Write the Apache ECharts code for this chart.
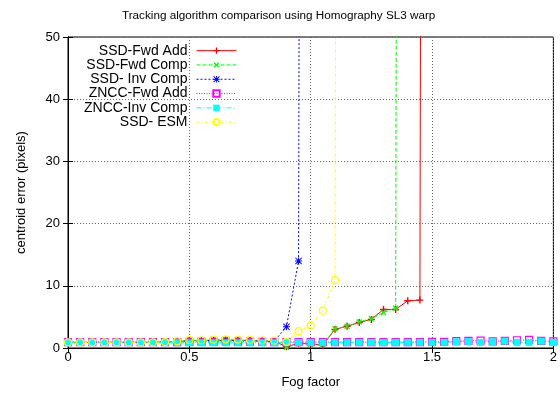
<!DOCTYPE html>
<html>
<head>
<meta charset="utf-8">
<script src="https://cdn.jsdelivr.net/npm/echarts@6/dist/echarts.min.js"></script>
<style>
  html, body { margin: 0; padding: 0; background: #fff; }
  #chart { width: 560px; height: 394px; }
</style>
</head>
<body>
<div id="chart"></div>
<script>
// fog factor samples (x)
const fog = [0, 0.05, 0.1, 0.15, 0.2, 0.25, 0.3, 0.35, 0.4, 0.45,
  0.5, 0.55, 0.6, 0.65, 0.7, 0.75, 0.8, 0.85, 0.9, 0.95,
  1, 1.05, 1.1, 1.15, 1.2, 1.25, 1.3, 1.35, 1.4, 1.45,
  1.5, 1.55, 1.6, 1.65, 1.7, 1.75, 1.8, 1.85, 1.9, 1.95, 2];

// centroid error per tracker (last point of the failing ones is far off the chart)
const ssdFwdAdd = [0.9, 0.9, 0.9, 0.9, 0.9, 0.9, 0.9, 0.9, 0.95, 1.05,
  1.2, 1.2, 1.25, 1.3, 1.25, 1.2, 1.15, 1.1, 0.2, 0.75,
  0.65, 0.45, 3.0, 3.5, 4.1, 4.6, 6.2, 6.2, 7.6, 7.7, 900];
const ssdFwdComp = [0.9, 0.9, 0.9, 0.9, 0.9, 0.9, 0.9, 0.9, 0.95, 1.05,
  1.2, 1.2, 1.25, 1.3, 1.25, 1.2, 1.15, 1.1, 0.1, 0.7,
  0.6, 0.5, 3.1, 3.5, 4.2, 4.7, 5.7, 6.4, 900];
const ssdInvComp = [0.9, 0.9, 0.9, 0.9, 0.9, 0.9, 0.9, 0.9, 0.95, 1.05,
  1.2, 1.15, 1.25, 1.3, 1.2, 1.2, 1.1, 1.1, 3.4, 14.0, 900];
const znccFwdAdd = [0.95, 0.95, 0.95, 0.95, 0.95, 0.95, 0.95, 0.95, 0.95, 0.95,
  1.0, 1.0, 1.0, 1.05, 1.0, 1.0, 1.0, 0.95, 0.95, 0.95,
  0.95, 0.95, 0.95, 0.95, 0.95, 0.95, 0.95, 0.95, 0.95, 0.95,
  1.0, 1.0, 1.1, 1.15, 1.2, 1.05, 1.15, 1.25, 1.3, 1.15, 1.05];
const znccInvComp = [0.9, 0.9, 0.9, 0.9, 0.9, 0.9, 0.9, 0.9, 0.9, 0.85,
  0.85, 0.85, 0.85, 0.85, 0.85, 0.85, 0.85, 0.85, 0.9, 0.9,
  0.9, 0.9, 0.9, 0.9, 0.9, 0.9, 0.9, 0.9, 0.9, 0.9,
  0.9, 0.9, 1.0, 1.05, 0.9, 1.0, 1.1, 0.9, 0.9, 1.1, 0.9];
const ssdEsm = [0.9, 0.9, 0.9, 0.9, 0.9, 0.9, 0.9, 0.9, 0.95, 1.1,
  1.3, 1.25, 1.35, 1.4, 1.35, 1.3, 1.25, 1.2, 1.0, 2.7,
  3.6, 6.0, 10.9, 900];

const names = ['SSD-Fwd Add', 'SSD-Fwd Comp', 'SSD- Inv Comp', 'ZNCC-Fwd Add', 'ZNCC-Inv Comp', 'SSD- ESM'];
const xTicks = [0, 0.5, 1, 1.5, 2];

const font = 'Liberation Sans, Arial, Helvetica, sans-serif';
const plus = 'path://M4,0H6V4H10V6H6V10H4V6H0V4H4Z';
const star = 'path://M4.3,0H5.7V4.3H10V5.7H5.7V10H4.3V5.7H0V4.3H4.3Z' +
  'M1,0L5,4L9,0L10,1L6,5L10,9L9,10L5,6L1,10L0,9L4,5L0,1Z';

function pairs(ys) {
  return ys.map((y, i) => [fog[i], y]);
}

function mkSeries(name, ys, color, dash, symbol, size, opts) {
  return Object.assign({
    name: name,
    type: 'line',
    data: pairs(ys),
    symbol: symbol,
    symbolSize: size,
    showAllSymbol: true,
    clip: true,
    animation: false,
    lineStyle: { color: color, width: 1, type: dash },
    itemStyle: { color: color }
  }, opts || {});
}

const chart = echarts.init(document.getElementById('chart'));

chart.setOption({
  animation: false,
  title: {
    text: 'Tracking algorithm comparison using Homography SL3 warp',
    left: 117,
    top: 5,
    textStyle: { fontFamily: font, fontSize: 11.7, fontWeight: 'normal', color: '#000' }
  },
  legend: {
    orient: 'vertical',
    align: 'right',
    right: 323,
    top: 43.5,
    padding: 0,
    itemGap: 0,
    itemWidth: 40,
    itemHeight: 8,
    data: names,
    lineStyle: { width: 1 },
    textStyle: { fontFamily: font, fontSize: 14, color: '#000', lineHeight: 14.3,
      padding: [0, 4, 0, 0] }
  },
  grid: {
    left: 68, right: 3, top: 37, bottom: 45,
    show: true, borderColor: '#000', borderWidth: 1
  },
  xAxis: [{
    type: 'value', min: 0, max: 2, interval: 0.5,
    name: 'Fog factor', nameLocation: 'middle', nameGap: 28,
    nameTextStyle: { fontFamily: font, fontSize: 13, color: '#000' },
    axisLine: { onZero: false, lineStyle: { color: '#000' } },
    axisTick: { inside: true, length: 5, lineStyle: { color: '#000' } },
    axisLabel: { fontFamily: font, fontSize: 13, color: '#000', margin: 3,
      customValues: xTicks },
    splitLine: { show: true, lineStyle: { color: '#666', type: [1, 2] } }
  }, {
    type: 'value', position: 'top', min: 0, max: 2, interval: 0.5,
    axisLine: { lineStyle: { color: '#000' } },
    axisTick: { inside: true, length: 5, lineStyle: { color: '#000' } },
    axisLabel: { show: false },
    splitLine: { show: false }
  }],
  yAxis: [{
    type: 'value', min: 0, max: 50, interval: 10,
    name: 'centroid error (pixels)', nameLocation: 'middle', nameGap: 40, nameRotate: 90,
    nameTextStyle: { fontFamily: font, fontSize: 13, color: '#000' },
    axisLine: { show: true, lineStyle: { color: '#000' } },
    axisTick: { show: true, inside: true, length: 5, lineStyle: { color: '#000' } },
    axisLabel: { fontFamily: font, fontSize: 13, color: '#000', margin: 8 },
    splitLine: { show: true, lineStyle: { color: '#666', type: [1, 2] } }
  }, {
    type: 'value', position: 'right', min: 0, max: 50, interval: 10,
    axisLine: { show: true, lineStyle: { color: '#000' } },
    axisTick: { show: true, inside: true, length: 5, lineStyle: { color: '#000' } },
    axisLabel: { show: false },
    splitLine: { show: false }
  }],
  series: [
    mkSeries(names[0], ssdFwdAdd, '#ff0000', 'solid', plus, 7),
    mkSeries(names[1], ssdFwdComp, '#00ff00', [4, 2], plus, 7, { symbolRotate: 45 }),
    mkSeries(names[2], ssdInvComp, '#0000ff', [2, 2], star, 7),
    mkSeries(names[3], znccFwdAdd, '#ff00ff', [1, 1.5], 'rect', 7,
      { itemStyle: { color: 'rgba(0,0,0,0)', borderColor: '#ff00ff', borderWidth: 1.2 } }),
    mkSeries(names[4], znccInvComp, '#00ffff', [5, 2, 1, 2], 'rect', 7),
    mkSeries(names[5], ssdEsm, '#ffff00', [3, 2, 1, 2], 'circle', 7,
      { itemStyle: { color: 'rgba(0,0,0,0)', borderColor: '#ffff00', borderWidth: 1.2 } })
  ]
});

window.addEventListener('resize', () => chart.resize());
</script>
</body>
</html>
